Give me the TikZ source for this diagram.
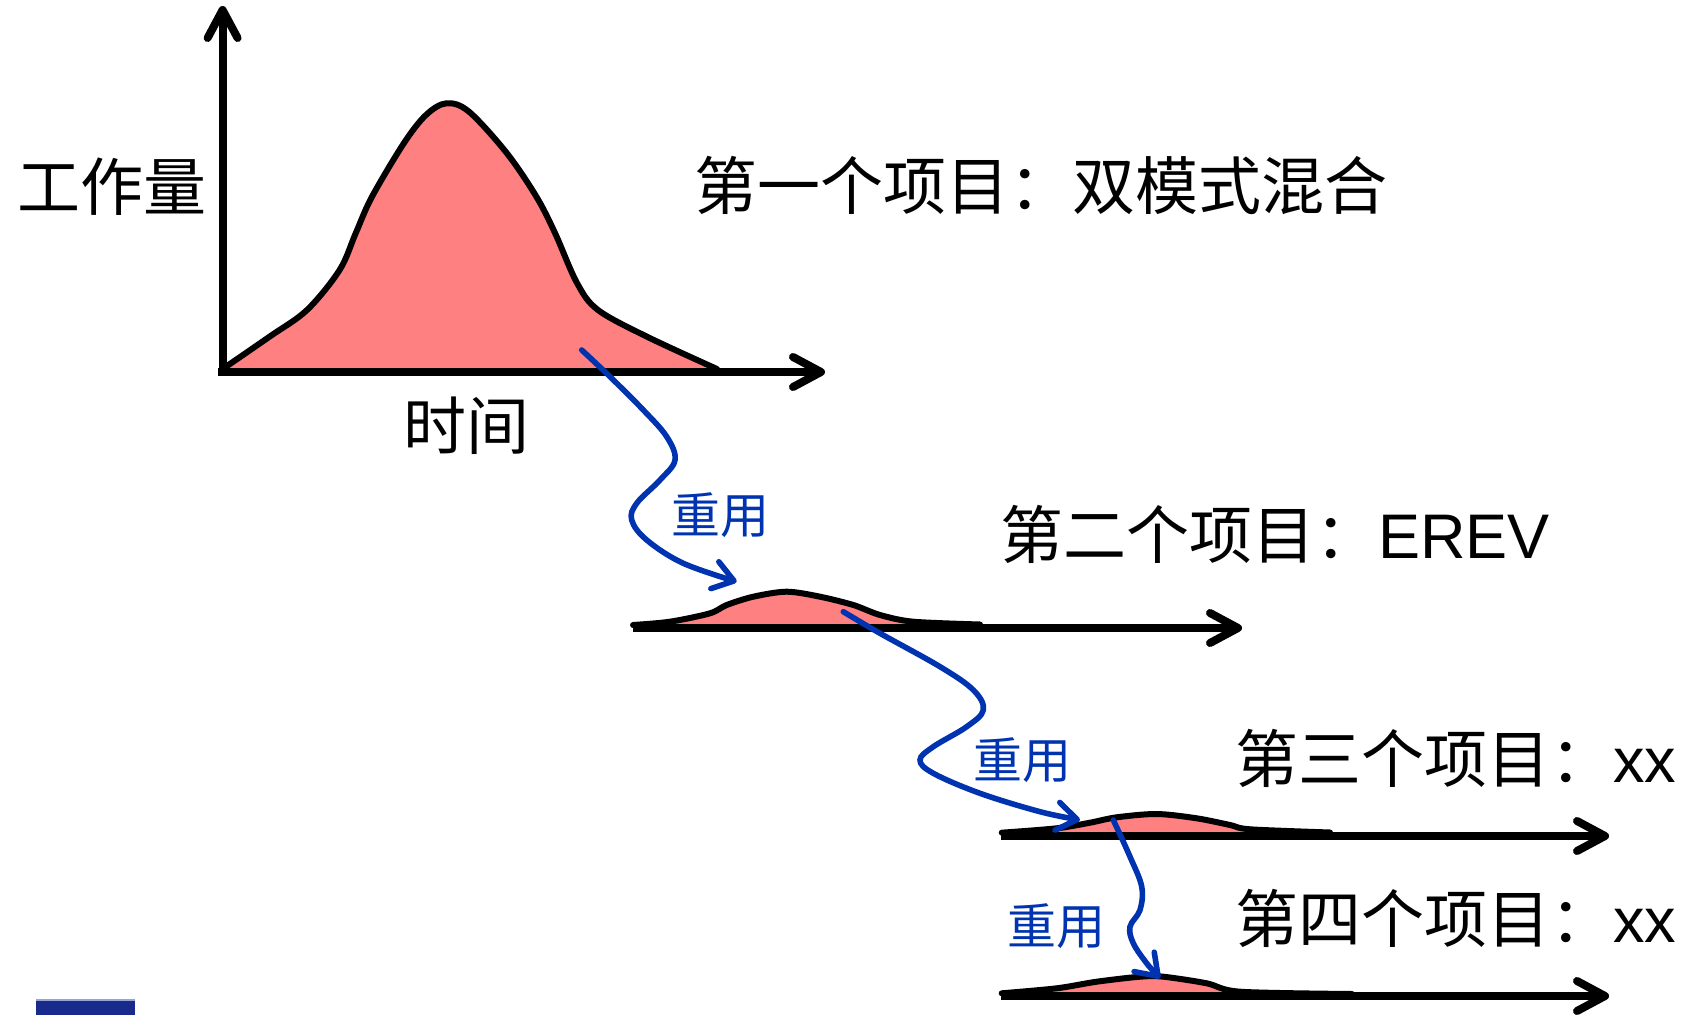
\documentclass[tikz,border=0pt]{standalone}
\usepackage{fontspec}
\newfontfamily\cjk{Noto Sans CJK SC}
\newfontfamily\latin{Liberation Sans}
\usetikzlibrary{arrows.meta}
\definecolor{pinkfill}{RGB}{255,128,128}
\definecolor{reuseblue}{RGB}{0,51,175}
\definecolor{navy}{RGB}{24,42,140}
\definecolor{navyedge}{RGB}{150,165,215}
\tikzset{
  axisline/.style={line width=4pt, -{Straight Barb[length=14pt,width=15pt,round]}},
  curveline/.style={line width=3pt, line join=round, line cap=round},
  pinkarea/.style={fill=pinkfill},
  reusearrow/.style={reuseblue, line width=2.8pt, line cap=round, -{Straight Barb[length=10pt,width=14pt,round]}},
  bigtext/.style={inner sep=0pt, anchor=west, font=\cjk\fontsize{31.5pt}{36pt}\selectfont},
  reusetext/.style={inner sep=0pt, text=reuseblue, font=\cjk\fontsize{24.5pt}{28pt}\selectfont},
}
\begin{document}
\begin{tikzpicture}[x=0.5pt,y=-0.5pt]
\useasboundingbox (0,0) rectangle (1690,1015);
% ---------- coordinates ----------
\coordinate (o1) at (222.6,376);
\coordinate (ytip) at (222.6,6);
\coordinate (xs1) at (218,372);
\coordinate (xtip1) at (825,372);
\coordinate (xs2) at (633,628);
\coordinate (xtip2) at (1242,628);
\coordinate (xs3) at (1001,836);
\coordinate (xtip3) at (1609,836);
\coordinate (xs4) at (1001,996);
\coordinate (xtip4) at (1609,996);
% ---------- project 1 curve ----------
\fill[pinkarea] plot[smooth,tension=0.55] coordinates {(222.6,369) (269.5,336.7) (307,310) (339.6,270) (355.8,233) (372,196.7) (404,143) (426,115) (446.4,103.3) (469,111.7) (506.7,153) (536.4,196.7) (555,233) (577,283) (598,310) (647,336.7) (717,369)} -- cycle;
\draw[curveline] plot[smooth,tension=0.55] coordinates {(222.6,369) (269.5,336.7) (307,310) (339.6,270) (355.8,233) (372,196.7) (404,143) (426,115) (446.4,103.3) (469,111.7) (506.7,153) (536.4,196.7) (555,233) (577,283) (598,310) (647,336.7) (717,369)};
% ---------- project 2 curve ----------
\fill[pinkarea] plot[smooth,tension=0.5] coordinates {(633,625) (670,621.7) (710,613.3) (726.7,605) (753.3,596.7) (786.7,591.7) (820,596.7) (853.3,605) (880,615) (913.3,621.7) (980,624.5)} -- cycle;
\draw[curveline] plot[smooth,tension=0.5] coordinates {(633,625) (670,621.7) (710,613.3) (726.7,605) (753.3,596.7) (786.7,591.7) (820,596.7) (853.3,605) (880,615) (913.3,621.7) (980,624.5)};
% ---------- project 3 curve ----------
\fill[pinkarea] plot[smooth,tension=0.5] coordinates {(1001.7,832.7) (1056.7,828.3) (1090,822.7) (1116.7,817.3) (1156.7,814) (1196.7,818.3) (1230,825) (1250,829.3) (1330,832.5)} -- cycle;
\draw[curveline] plot[smooth,tension=0.5] coordinates {(1001.7,832.7) (1056.7,828.3) (1090,822.7) (1116.7,817.3) (1156.7,814) (1196.7,818.3) (1230,825) (1250,829.3) (1330,832.5)};
% ---------- project 4 curve ----------
\fill[pinkarea] plot[smooth,tension=0.5] coordinates {(1001.7,993.3) (1056.7,988.3) (1096.7,981.7) (1140,976.7) (1163.3,976.7) (1206.7,983.3) (1240,991.7) (1352,994)} -- cycle;
\draw[curveline] plot[smooth,tension=0.5] coordinates {(1001.7,993.3) (1056.7,988.3) (1096.7,981.7) (1140,976.7) (1163.3,976.7) (1206.7,983.3) (1240,991.7) (1352,994)};
% ---------- axes ----------
\draw[axisline] (o1) -- (ytip);
\draw[axisline] (xs1) -- (xtip1);
\draw[axisline] (xs2) -- (xtip2);
\draw[axisline] (xs3) -- (xtip3);
\draw[axisline] (xs4) -- (xtip4);
% ---------- reuse arrows ----------
\coordinate (r1s) at (581.7,350);
\coordinate (r1e) at (736.7,581.7);
\coordinate (r2s) at (843.3,611.7);
\coordinate (r2e) at (1080,820);
\coordinate (r3s) at (1113.3,820);
\coordinate (r3e) at (1160,978.3);
\draw[reusearrow] plot[smooth,tension=0.6] coordinates {(r1s) (610,376.7) (643.3,410) (666.7,436.7) (675,460) (660,480) (636.7,503.3) (631.7,520) (646.7,540) (683.3,563.3) (r1e)};
\draw[reusearrow] plot[smooth,tension=0.6] coordinates {(r2s) (880,633.3) (940,666.7) (973.3,690) (983.3,710) (966.7,726.7) (933.3,746.7) (920,760) (933.3,773.3) (980,793.3) (1040,811.7) (r2e)};
\draw[reusearrow] plot[smooth,tension=0.6] coordinates {(r3s) (1130,856.7) (1141.7,886.7) (1140,910) (1130,926.7) (1133.3,943.3) (1146.7,963.3) (r3e)};
% ---------- texts ----------
\node[bigtext] (ylab) at (17,187) {工作量};
\node[bigtext] (xlab) at (403,426) {时间};
\node[bigtext] (p1) at (694,186) {第一个项目：双模式混合};
\node[bigtext] (p2) at (1000,534) {第二个项目：{\latin EREV}};
\node[bigtext] (p3) at (1235,758) {第三个项目：{\latin xx}};
\node[bigtext] (p4) at (1235,918) {第四个项目：{\latin xx}};
\node[reusetext] (l1) at (720.5,515.5) {重用};
\node[reusetext] (l2) at (1022.5,760.5) {重用};
\node[reusetext] (l3) at (1056.5,926) {重用};
% ---------- corner artifact ----------
\fill[navy] (36,999) rectangle (135,1016);
\draw[navyedge, line width=1pt] (36,1000) -- (135,1000);
\end{tikzpicture}
\end{document}
